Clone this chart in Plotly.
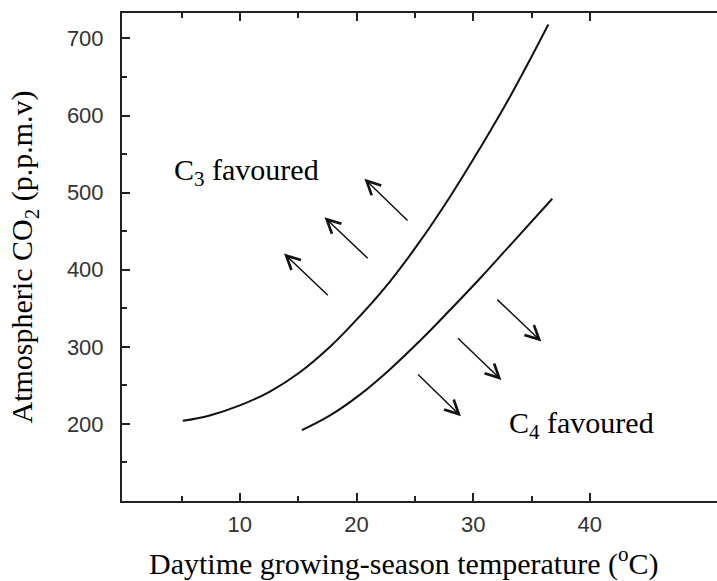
import plotly.graph_objects as go

# Upper boundary curve
upper_temp = [5.11, 7.42, 10.0, 12.58, 15.15, 17.73, 20.3, 22.88, 25.45, 28.03, 30.6, 33.18, 36.44]
upper_co2 = [204, 211, 224, 242, 267, 300, 340, 385, 437, 495, 558, 625, 718]

# Lower boundary curve
lower_temp = [15.32, 17.73, 20.3, 22.88, 25.45, 28.03, 30.6, 33.18, 36.78]
lower_co2 = [192, 211, 238, 271, 308, 348, 389, 432, 492]

# Arrows: tail (temp, co2) -> head (temp, co2)
arrow_tail_temp = [17.67, 21.09, 24.50, 31.94, 28.57, 25.15]
arrow_tail_co2 = [365, 413, 462, 363, 313, 266]
arrow_head_temp = [13.79, 17.26, 20.68, 35.84, 32.42, 28.95]
arrow_head_co2 = [421, 468, 518, 307, 257, 210]

# Labels
label_texts = ["C<sub>3</sub> favoured", "C<sub>4</sub> favoured"]
label_temp = [10.6, 39.3]
label_co2 = [527, 199]

x_ticks = [10, 20, 30, 40]
x_minor = [5, 15, 25, 35]
y_ticks = [200, 300, 400, 500, 600, 700]
y_minor = [150, 250, 350, 450, 550, 650]

x_title = "Daytime growing-season temperature (<sup>o</sup>C)"
y_title = "Atmospheric CO<sub>2</sub> (p.p.m.v)"

fig = go.Figure()
fig.add_trace(go.Scatter(x=upper_temp, y=upper_co2, mode="lines",
                         line=dict(color="#111", width=2, shape="spline", smoothing=1.2),
                         hoverinfo="skip", showlegend=False))
fig.add_trace(go.Scatter(x=lower_temp, y=lower_co2, mode="lines",
                         line=dict(color="#111", width=2, shape="spline", smoothing=1.2),
                         hoverinfo="skip", showlegend=False))

serif = "Liberation Serif, Times New Roman, serif"

for tx, ty, hx, hy in zip(arrow_tail_temp, arrow_tail_co2, arrow_head_temp, arrow_head_co2):
    fig.add_annotation(x=hx, y=hy, ax=tx, ay=ty, xref="x", yref="y", axref="x", ayref="y",
                       text="", showarrow=True, arrowhead=5, arrowsize=1.8,
                       arrowwidth=1.5, arrowcolor="#111", standoff=0)

for t, lx, ly in zip(label_texts, label_temp, label_co2):
    fig.add_annotation(x=lx, y=ly, xref="x", yref="y", text=t, showarrow=False,
                       font=dict(family=serif, size=30, color="#000"))

# x-axis title (placed slightly left of plot centre, as in the reference)
fig.add_annotation(x=0.474, y=-0.123, xref="paper", yref="paper", text=x_title,
                   showarrow=False, xanchor="center", yanchor="middle",
                   font=dict(family=serif, size=30, color="#000"))

axis_common = dict(
    showline=True, linecolor="#222", linewidth=2,
    ticks="inside", tickcolor="#222", tickwidth=1.5, ticklen=8,
    showgrid=False, zeroline=False,
    tickfont=dict(family="Liberation Sans, Arial, sans-serif", size=22, color="#333"),
)

fig.update_xaxes(
    **axis_common,
    range=[-0.1, 50.9],
    tickmode="array", tickvals=x_ticks,
    mirror="ticks",
    minor=dict(tickmode="array", tickvals=x_minor, ticks="inside", ticklen=5,
               tickcolor="#222", tickwidth=1.5),
    ticklabelstandoff=3,
)
fig.update_yaxes(
    **axis_common,
    range=[100, 733],
    tickmode="array", tickvals=y_ticks,
    mirror=False,
    minor=dict(tickmode="array", tickvals=y_minor, ticks="inside", ticklen=5,
               tickcolor="#222", tickwidth=1.5),
    ticklabelstandoff=12,
    title=dict(text=y_title, font=dict(family=serif, size=30, color="#000"), standoff=25),
)

fig.update_layout(
    width=717, height=581,
    margin=dict(l=122, r=0, t=13, b=80),
    paper_bgcolor="white", plot_bgcolor="white",
)

fig.write_html("out.html")
